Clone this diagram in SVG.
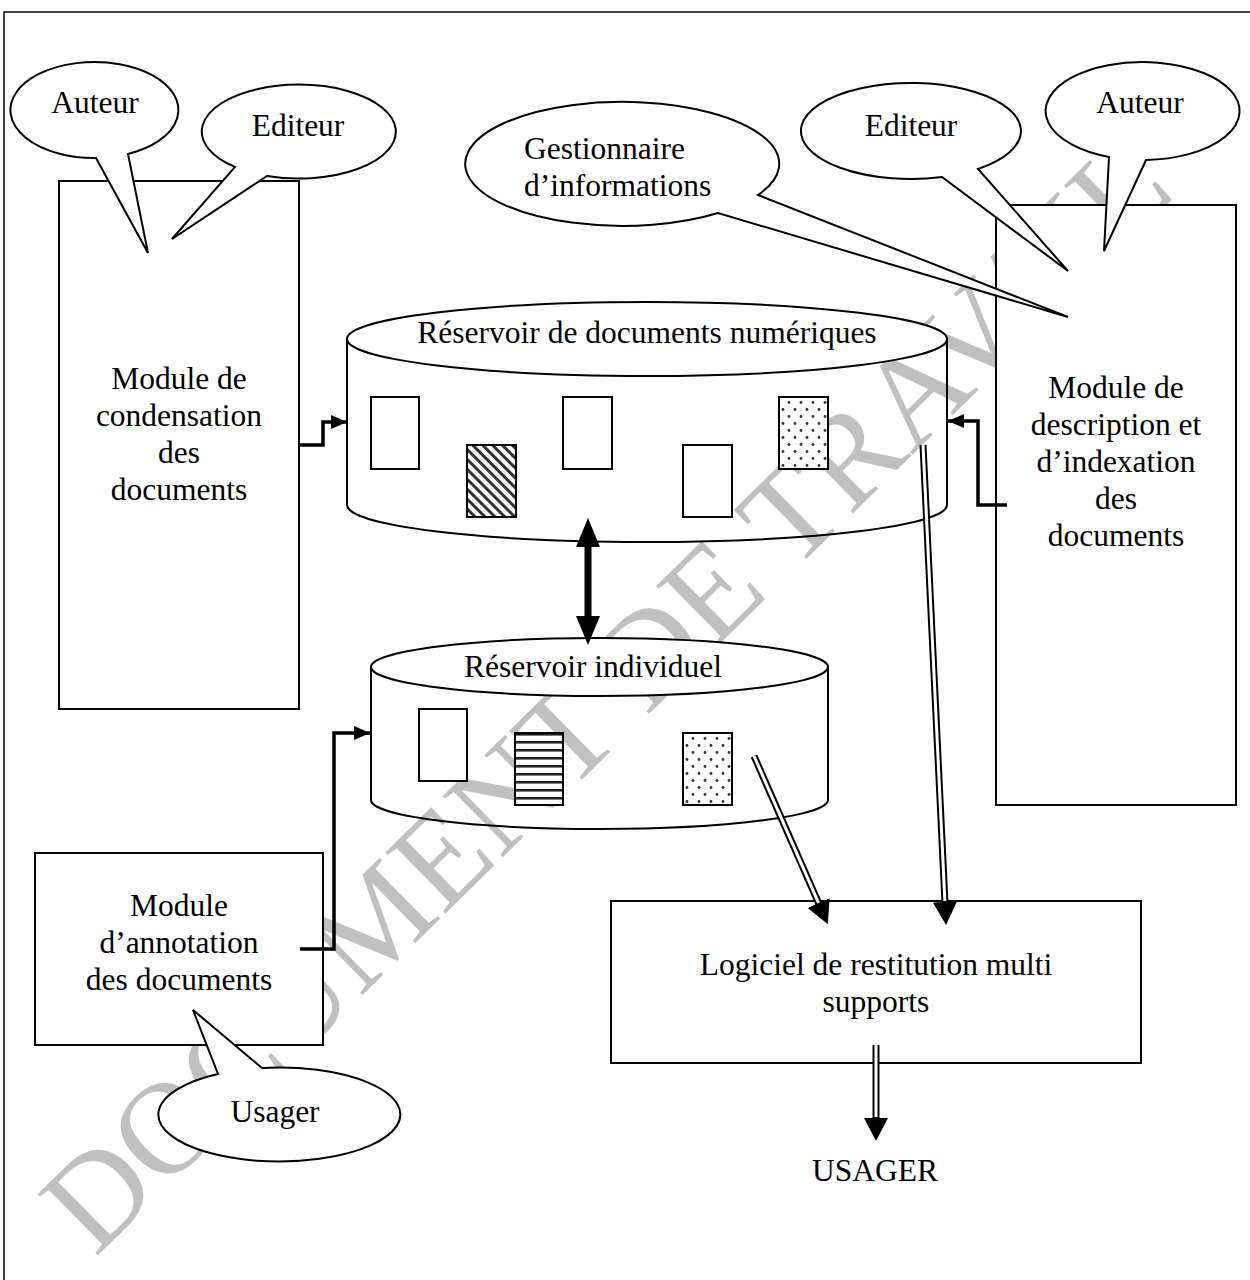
<svg xmlns="http://www.w3.org/2000/svg" width="1250" height="1280" viewBox="0 0 1250 1280">
<style>
text{font-family:"Liberation Serif","Times New Roman",serif;font-size:31.5px;fill:#000}
.c{text-anchor:middle}
.box{fill:#fff;stroke:#000;stroke-width:2}
.call{fill:#fff;stroke:#000;stroke-width:2;stroke-linejoin:miter}
.doc{stroke:#000;stroke-width:2}
.cylbody{fill:none;stroke:#000;stroke-width:2}
.cyltop{fill:#fff;stroke:#000;stroke-width:2}
.elbow{fill:none;stroke:#000;stroke-width:3.5}
.dblo{fill:none;stroke:#000;stroke-width:7}
.dbli{fill:none;stroke:#fff;stroke-width:3}
.wm{font-size:131px;fill:#c0c0c0}
</style>
<defs>
<marker id="ah" markerUnits="userSpaceOnUse" markerWidth="16" markerHeight="14" refX="16" refY="7" orient="auto"><path d="M0,0 L16,7 L0,14 z" fill="#000"/></marker>
<marker id="bh" markerUnits="userSpaceOnUse" markerWidth="24" markerHeight="24" refX="1" refY="12" orient="auto"><path d="M0,0 L23,12 L0,24 z" fill="#000"/></marker>
<marker id="dh" markerUnits="userSpaceOnUse" markerWidth="29" markerHeight="24" refX="1" refY="12" orient="auto-start-reverse"><path d="M0,0 L29,12 L0,24 z" fill="#000"/></marker>
<pattern id="diag" patternUnits="userSpaceOnUse" width="7" height="7" patternTransform="rotate(45)"><rect width="7" height="7" fill="#fff"/><rect width="7" height="3" fill="#333"/></pattern>
<pattern id="horiz" patternUnits="userSpaceOnUse" x="0" y="733" width="8" height="8"><rect width="8" height="8" fill="#fff"/><rect y="0" width="8" height="2.6" fill="#222"/></pattern>
<pattern id="dots" patternUnits="userSpaceOnUse" width="12" height="14"><rect width="12" height="14" fill="#fff"/><circle cx="3" cy="3.5" r="1.4" fill="#333"/><circle cx="9" cy="10.5" r="1.4" fill="#333"/></pattern>
</defs>
<rect x="0" y="0" width="1250" height="1280" fill="#fff"/>
<rect x="4" y="12" width="1270" height="1300" fill="none" stroke="#000" stroke-width="1.5"/>

<g id="watermark">
<text class="wm" transform="translate(95,1258) rotate(-44.5)">DOCUMENT DE TRAVAIL</text>
</g>

<g id="module-condensation">
<rect class="box" x="59" y="181" width="240" height="528"/>
<text class="c" x="179" y="389">Module de</text>
<text class="c" x="179" y="426">condensation</text>
<text class="c" x="179" y="463">des</text>
<text class="c" x="179" y="500">documents</text>
</g>

<g id="module-description">
<rect class="box" x="996" y="205" width="240" height="600"/>
<text class="c" x="1116" y="398">Module de</text>
<text class="c" x="1116" y="435">description et</text>
<text class="c" x="1116" y="472">d’indexation</text>
<text class="c" x="1116" y="509">des</text>
<text class="c" x="1116" y="546">documents</text>
</g>

<g id="module-annotation">
<rect class="box" x="35" y="853" width="288" height="192"/>
<text class="c" x="179" y="916">Module</text>
<text class="c" x="179" y="953">d’annotation</text>
<text class="c" x="179" y="990">des documents</text>
</g>

<g id="logiciel">
<rect class="box" x="611" y="901" width="530" height="162"/>
<text class="c" x="876" y="975">Logiciel de restitution multi</text>
<text class="c" x="876" y="1012">supports</text>
</g>

<g id="reservoir-numerique">
<path class="cylbody" d="M347,339 L347,505 A300,37 0 0 0 947,505 L947,339"/>
<ellipse class="cyltop" cx="647" cy="339" rx="300" ry="37"/>
<text class="c" x="647" y="343">Réservoir de documents numériques</text>
<rect class="doc" x="371" y="397" width="48" height="72" fill="#fff"/>
<rect class="doc" x="467" y="445" width="49" height="72" fill="url(#diag)"/>
<rect class="doc" x="563" y="397" width="49" height="72" fill="#fff"/>
<rect class="doc" x="683" y="445" width="49" height="72" fill="#fff"/>
<rect class="doc" x="779" y="397" width="49" height="72" fill="url(#dots)"/>
</g>

<g id="reservoir-individuel">
<path class="cylbody" d="M371,667 L371,800 A228.5,29 0 0 0 828,800 L828,667"/>
<ellipse class="cyltop" cx="599.5" cy="667" rx="228.5" ry="29"/>
<text class="c" x="593" y="677">Réservoir individuel</text>
<rect class="doc" x="419" y="709" width="48" height="72" fill="#fff"/>
<rect class="doc" x="515" y="733" width="48" height="72" fill="url(#horiz)"/>
<rect class="doc" x="683" y="733" width="49" height="72" fill="url(#dots)"/>
</g>

<g id="callout-auteur-left">
<path class="call" d="M128,154 A84,48 0 1 0 96,158 L148,253 Z"/>
<text class="c" x="95" y="113">Auteur</text>
</g>
<g id="callout-editeur-left">
<path class="call" d="M267,176 A97,47 0 1 0 235,167 L172,239 Z"/>
<text class="c" x="298" y="136">Editeur</text>
</g>
<g id="callout-gestionnaire">
<path class="call" d="M758,195 A157,62 0 1 0 718,213 L1068,317 Z"/>
<text x="524" y="159">Gestionnaire</text>
<text x="524" y="196">d’informations</text>
</g>
<g id="callout-editeur-right">
<path class="call" d="M978,169 A110,48 0 1 0 942,177 L1068,271 Z"/>
<text class="c" x="911" y="136">Editeur</text>
</g>
<g id="callout-auteur-right">
<path class="call" d="M1146,160 A97,49 0 1 0 1109,157 L1104,251 Z"/>
<text class="c" x="1140" y="113">Auteur</text>
</g>
<g id="callout-usager">
<path class="call" d="M218,1074 A121,47 0 1 0 262,1068 L193,1010 Z"/>
<text class="c" x="275" y="1122">Usager</text>
</g>

<g id="usager-out">
<text class="c" x="875" y="1181">USAGER</text>
</g>

<g id="connectors">
<path class="elbow" d="M299,445 H323 V422 H347" marker-end="url(#ah)"/>
<path class="elbow" d="M1007,505 H978 V421 H948" marker-end="url(#ah)"/>
<path class="elbow" d="M300,949 H334 V733 H370" marker-end="url(#ah)"/>
<line x1="588" y1="546" x2="588" y2="617" stroke="#000" stroke-width="7" marker-start="url(#dh)" marker-end="url(#dh)"/>
<line class="dblo" x1="923" y1="445" x2="945" y2="903" marker-end="url(#bh)"/>
<line class="dbli" x1="923" y1="445" x2="944.9" y2="901"/>
<line class="dblo" x1="754" y1="756" x2="819" y2="904" marker-end="url(#bh)"/>
<line class="dbli" x1="754" y1="756" x2="818.5" y2="902.9"/>
<line class="dblo" x1="876" y1="1045" x2="876" y2="1119" marker-end="url(#bh)"/>
<line class="dbli" x1="876" y1="1045" x2="876" y2="1117"/>
</g>
</svg>
